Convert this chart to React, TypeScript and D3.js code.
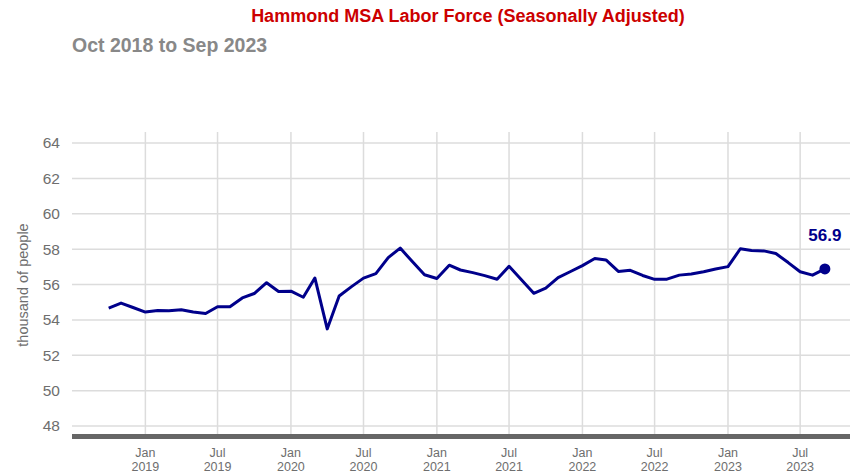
import React from "react";
import * as d3 from "d3";

// monthly labor force, thousands, Oct 2018 .. Sep 2023
const startMonth = new Date(2018, 9, 1);
const laborForce = [
  54.67, 54.95, 54.7, 54.44, 54.53, 54.51, 54.57, 54.44, 54.36, 54.74, 54.74, 55.24,
  55.49, 56.1, 55.6, 55.62, 55.28, 56.37, 53.49, 55.35, 55.88, 56.36, 56.61, 57.52,
  58.06, 57.28, 56.55, 56.34, 57.09, 56.82, 56.67, 56.5, 56.3, 57.03, 56.27, 55.5,
  55.79, 56.39, 56.72, 57.07, 57.47, 57.39, 56.74, 56.8, 56.51, 56.29, 56.3, 56.53,
  56.59, 56.72, 56.88, 57.01, 58.02, 57.92, 57.9, 57.75, 57.24, 56.72, 56.53, 56.88,
];
const yTicks = [48, 50, 52, 54, 56, 58, 60, 62, 64];
const xTickDates = [
  "2019-01", "2019-07", "2020-01", "2020-07", "2021-01",
  "2021-07", "2022-01", "2022-07", "2023-01", "2023-07",
];
const monthNames = ["Jan", "Feb", "Mar", "Apr", "May", "Jun", "Jul", "Aug", "Sep", "Oct", "Nov", "Dec"];

const font = "'Liberation Sans', Arial, sans-serif";

function Chart() {
  const width = 850;
  const height = 476;
  const plot = { left: 72, right: 850, top: 132, bottom: 434 };

  const data = laborForce.map((v, i) => ({
    date: new Date(startMonth.getFullYear(), startMonth.getMonth() + i, 1),
    value: v,
  }));

  // x範囲: Jul 2018 .. early Nov 2023
  const xScale = d3
    .scaleTime()
    .domain([new Date(2018, 6, 1), new Date(2023, 10, 3)])
    .range([plot.left, plot.right]);

  const yScale = d3.scaleLinear().domain([48, 64]).range([426, 143]);

  const line = d3
    .line<{ date: Date; value: number }>()
    .x((d) => xScale(d.date))
    .y((d) => yScale(d.value));

  const last = data[data.length - 1];
  const gridColor = "#dcdcdc";
  const labelColor = "#6e6e6e";

  const xTicks = xTickDates.map((s) => {
    const [y, m] = s.split("-").map(Number);
    return new Date(y, m - 1, 1);
  });

  return (
    <svg
      width={width}
      height={height}
      style={{ display: "block", position: "absolute", left: 0, top: 0 }}
    >
      <rect width={width} height={height} fill="white" />

      {/* タイトル */}
      <text x={468} y={22} textAnchor="middle" fontFamily={font} fontWeight="bold" fontSize={18} fill="#cc0000">
        Hammond MSA Labor Force (Seasonally Adjusted)
      </text>
      <text x={72} y={52} fontFamily={font} fontWeight="bold" fontSize={19.5} fill="#888888">
        Oct 2018 to Sep 2023
      </text>

      {/* 縦のグリッド */}
      {xTicks.map((d) => (
        <line
          key={d.getTime()}
          x1={xScale(d)}
          x2={xScale(d)}
          y1={plot.top}
          y2={plot.bottom}
          stroke={gridColor}
          strokeWidth={1.5}
        />
      ))}

      {/* 横のグリッドと目盛り */}
      {yTicks.map((t) => (
        <g key={t} transform={`translate(0,${yScale(t)})`}>
          <line x1={plot.left} x2={plot.right} stroke={gridColor} strokeWidth={1.5} />
          <text x={60} dy="0.35em" textAnchor="end" fontFamily={font} fontSize={15.5} fill={labelColor}>
            {t}
          </text>
        </g>
      ))}

      <text
        transform={`translate(23,285) rotate(-90)`}
        textAnchor="middle"
        dy="0.35em"
        fontFamily={font}
        fontSize={14.5}
        fill={labelColor}
      >
        thousand of people
      </text>

      {/* x軸 */}
      <rect x={plot.left} y={434} width={plot.right - plot.left} height={5} fill="#666666" />
      {xTicks.map((d) => (
        <text
          key={d.getTime()}
          x={xScale(d)}
          textAnchor="middle"
          fontFamily={font}
          fontSize={12.5}
          fill={labelColor}
        >
          <tspan x={xScale(d)} y={457}>
            {monthNames[d.getMonth()]}
          </tspan>
          <tspan x={xScale(d)} y={471}>
            {d.getFullYear()}
          </tspan>
        </text>
      ))}

      {/* データ */}
      <path d={line(data) ?? ""} fill="none" stroke="#00008b" strokeWidth={3} strokeLinejoin="round" />
      <circle cx={xScale(last.date)} cy={yScale(last.value)} r={5.5} fill="#00008b" />
      <text
        x={xScale(last.date)}
        y={yScale(last.value) - 28}
        textAnchor="middle"
        fontFamily={font}
        fontWeight="bold"
        fontSize={17}
        fill="#00008b"
      >
        {last.value.toFixed(1)}
      </text>
    </svg>
  );
}

export default function App() {
  return <Chart />;
}
